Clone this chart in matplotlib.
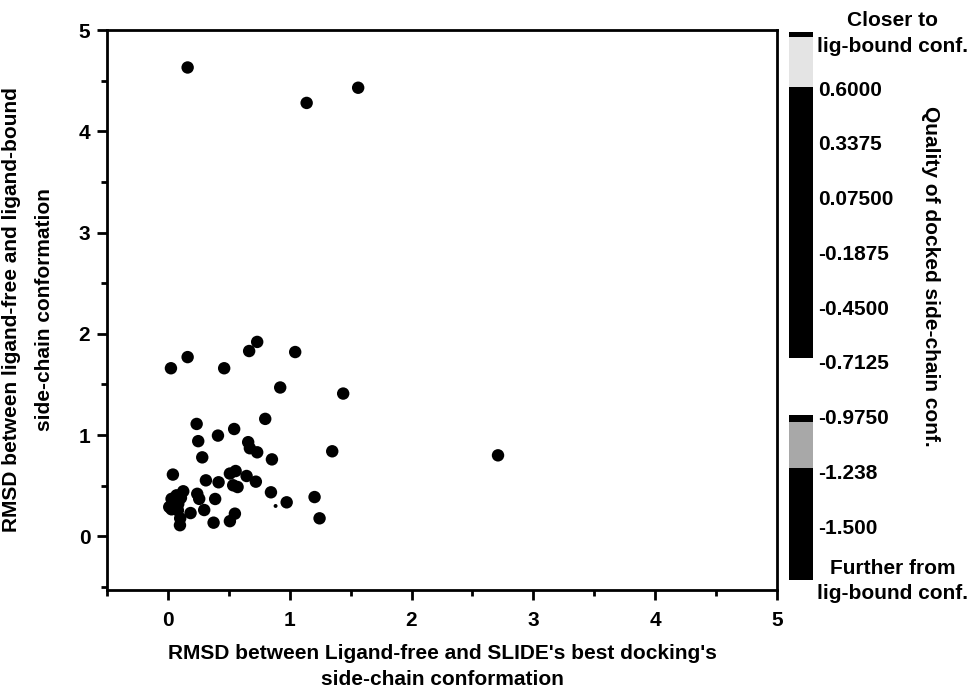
import numpy as np
import matplotlib.pyplot as plt
from matplotlib.ticker import MultipleLocator

plt.rcParams['font.family'] = ['Liberation Sans', 'DejaVu Sans']
plt.rcParams['font.weight'] = 'bold'
plt.rcParams['axes.labelweight'] = 'bold'

# RMSD ligand-free vs SLIDE best docking (x) / ligand-free vs ligand-bound (y)
x_rmsd = [0.162, 1.139, 1.562, 2.71,
          0.025, 0.162, 0.462, 0.667, 0.733, 1.045, 0.922, 1.439, 0.799,
          0.236, 0.544, 0.411, 0.249, 0.659, 0.673, 0.733, 0.854, 1.349,
          0.282, 0.041, 0.509, 0.556, 0.646, 0.312, 0.416, 0.722, 0.536,
          0.572, 0.846, 1.204, 0.975, 0.126, 0.071, 0.030, 0.107, 0.241,
          0.257, 0.011, 0.085, 0.388, 0.030, 0.082, 0.186, 0.298, 0.101,
          0.099, 0.375, 0.509, 0.550, 1.245]
y_rmsd = [4.63, 4.28, 4.43, 0.80,
          1.66, 1.77, 1.66, 1.83, 1.92, 1.82, 1.47, 1.41, 1.16,
          1.11, 1.06, 0.995, 0.94, 0.93, 0.87, 0.83, 0.76, 0.84,
          0.78, 0.61, 0.62, 0.645, 0.596, 0.553, 0.534, 0.54, 0.504,
          0.487, 0.435, 0.388, 0.336, 0.445, 0.405, 0.37, 0.38, 0.42,
          0.37, 0.29, 0.32, 0.369, 0.267, 0.257, 0.23, 0.26, 0.178,
          0.11, 0.135, 0.15, 0.224, 0.178]
tiny_x = [0.884]
tiny_y = [0.30]

# colour scale (quality of docked side-chain conformation)
cbar_ticks = [0.6000, 0.3375, 0.07500, -0.1875, -0.4500, -0.7125, -0.9750, -1.238, -1.500]
cbar_ticklabels = ["0.6000", "0.3375", "0.07500", "-0.1875", "-0.4500", "-0.7125",
                   "-0.9750", "-1.238", "-1.500"]
cbar_bands = [(0.869, 0.845, "black"), (0.845, 0.605, "#e4e4e4"), (0.605, -0.695, "black"),
              (-0.968, -1.002, "black"), (-1.002, -1.222, "#a8a8a8"), (-1.222, -1.759, "black")]

fig = plt.figure(figsize=(9.7, 6.9), dpi=100)
ax = fig.add_axes([0.1103, 0.1449, 0.6907, 0.8116])

ax.scatter(x_rmsd, y_rmsd, s=80, color="black", edgecolors="none", zorder=3)
ax.scatter(tiny_x, tiny_y, s=8, color="black", edgecolors="none", zorder=3)

ax.set_xlim(-0.5, 5)
ax.set_ylim(-0.53, 5)
ax.xaxis.set_major_locator(MultipleLocator(1))
ax.xaxis.set_minor_locator(MultipleLocator(0.5))
ax.yaxis.set_major_locator(MultipleLocator(1))
ax.yaxis.set_minor_locator(MultipleLocator(0.5))
ax.tick_params(which="major", length=7, width=2, labelsize=15, direction="out")
ax.tick_params(which="minor", length=4, width=2, direction="out")
ax.tick_params(axis="x", pad=8)
ax.tick_params(axis="y", pad=5)
for s in ax.spines.values():
    s.set_linewidth(2)

ax.set_xlabel("RMSD between Ligand-free and SLIDE's best docking's\nside-chain conformation",
              fontsize=15, labelpad=10, linespacing=1.5)
ax.set_ylabel("RMSD between ligand-free and ligand-bound\nside-chain conformation",
              fontsize=15, labelpad=18, linespacing=1.9)

# colour bar
cax = fig.add_axes([0.8134, 0.1594, 0.0247, 0.7942])
cax.set_xlim(0, 1)
cax.set_ylim(-1.759, 0.869)
for top, bot, col in cbar_bands:
    cax.axhspan(bot, top, color=col, lw=0)
for s in cax.spines.values():
    s.set_visible(False)
cax.set_xticks([])
cax.yaxis.tick_right()
cax.set_yticks(cbar_ticks)
cax.set_yticklabels(cbar_ticklabels)
cax.tick_params(axis="y", length=0, pad=4, labelsize=15)

fig.text(0.920, 0.951, "Closer to\nlig-bound conf.", ha="center", va="center",
         fontsize=15, linespacing=1.45)
fig.text(0.920, 0.158, "Further from\nlig-bound conf.", ha="center", va="center",
         fontsize=15, linespacing=1.45)
fig.text(0.959, 0.600, "Quality of docked side-chain conf.", ha="center", va="center",
         rotation=-90, fontsize=15)

fig.savefig("out.png", dpi=100)
